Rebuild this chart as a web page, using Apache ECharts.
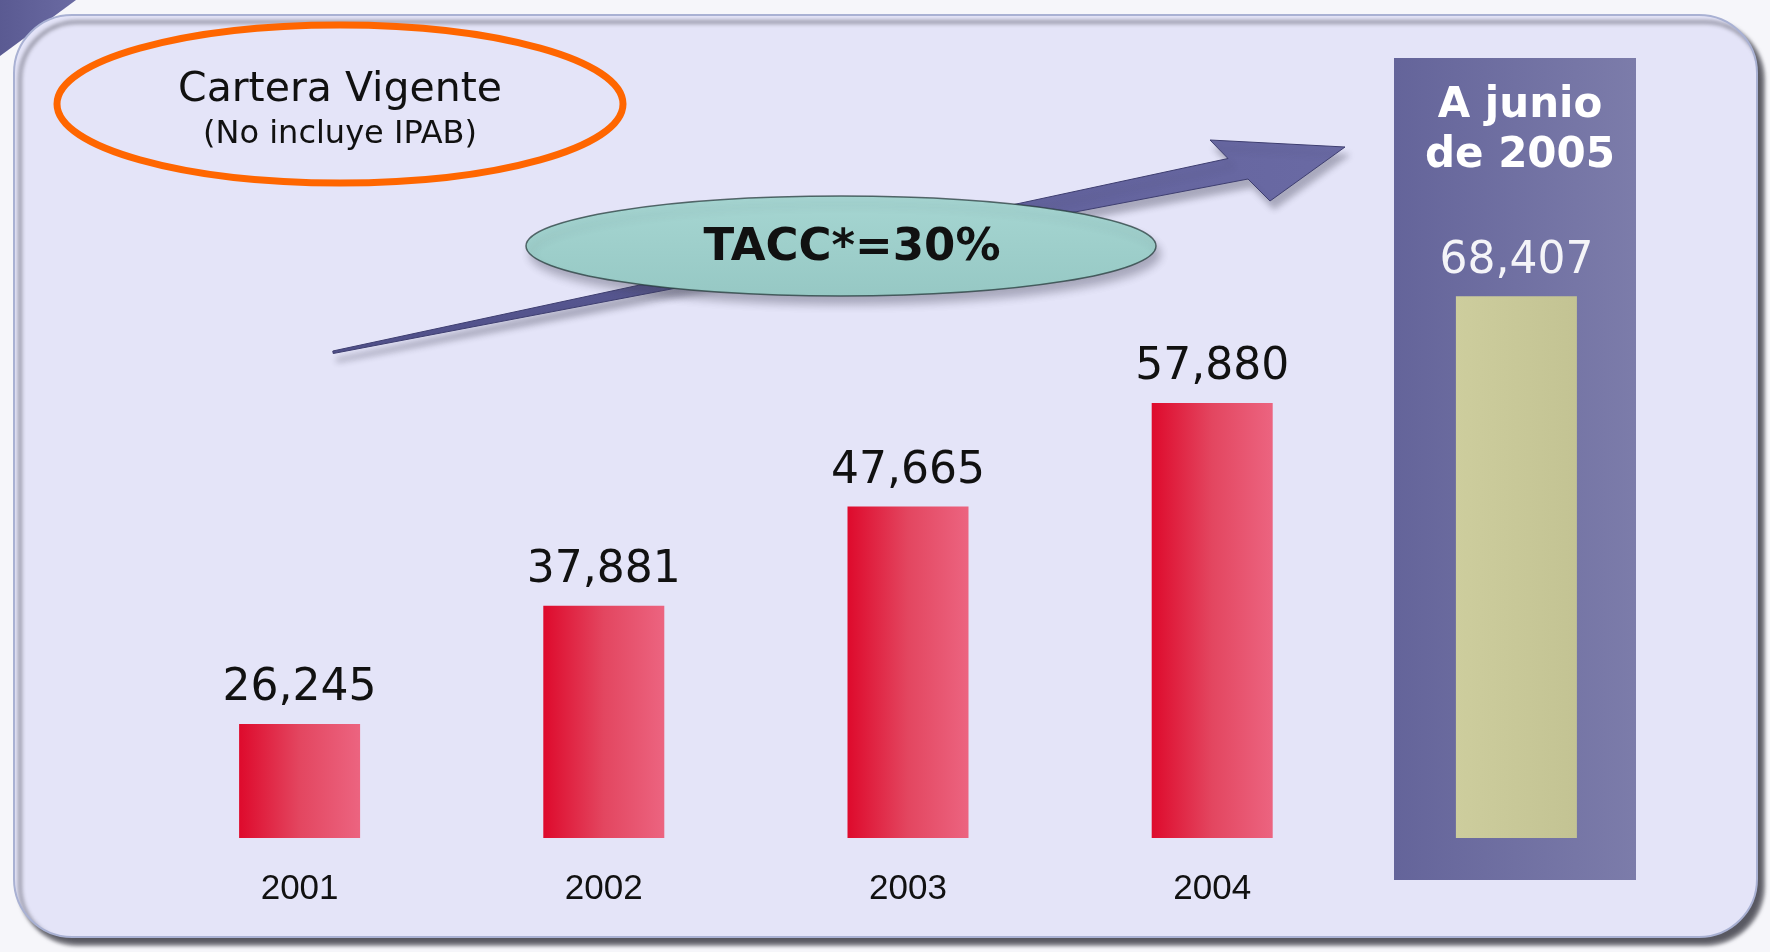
<!DOCTYPE html>
<html>
<head>
<meta charset="utf-8">
<title>Cartera Vigente</title>
<script src="https://cdn.jsdelivr.net/npm/echarts@6/dist/echarts.min.js"></script>
<style>
    html,body{margin:0;padding:0;background:#f6f6fa;}
    #chart{width:1770px;height:952px;}
</style>
</head>
<body>
<div id="chart"></div>
<script>
// datos
var years = ['2001', '2002', '2003', '2004', '2005'];
var cartera = [26245, 37881, 47665, 57880, 68407];
var ultimoTitulo = ['A junio', 'de 2005'];
var tituloTexto = 'Cartera Vigente';
var subTitulo = '(No incluye IPAB)';
var taccTexto = 'TACC*=30%';

var rojo = new echarts.graphic.LinearGradient(0, 0, 1, 0, [
    {offset: 0, color: '#de0a2c'},
    {offset: 0.5, color: '#e34660'},
    {offset: 1, color: '#ec6480'}
]);
var caqui = new echarts.graphic.LinearGradient(0, 0, 1, 0, [
    {offset: 0, color: '#cdcd9d'},
    {offset: 1, color: '#c3c393'}
]);

var barData = [];
for (var i = 0; i < cartera.length; i++) {
    var last = i == cartera.length - 1;
    barData.push({
        value: cartera[i],
        itemStyle: {color: last ? caqui : rojo},
        label: {color: last ? '#f4f4f8' : '#111'}
    });
}

// flecha (cola delgada, cabeza inclinada)
var flecha = [[332.8, 351], [1228, 158.5], [1210, 140], [1345, 147], [1270, 201], [1248, 179], [333.2, 353.5]];

var myChart = echarts.init(document.getElementById('chart'));
var option = {
    backgroundColor: '#f6f6fa',
    animation: false,
    grid: {left: 147.5, right: 101.5, top: 280, bottom: 114},
    xAxis: {
        type: 'category',
        data: years,
        axisLine: {show: false},
        axisTick: {show: false},
        axisLabel: {
            margin: 34,
            fontFamily: 'Liberation Sans',
            fontSize: 35,
            color: '#111',
            formatter: function (v, idx) { return idx == 4 ? '' : v; }
        }
    },
    yAxis: {type: 'value', min: 15000, max: 70000, show: false},
    graphic: [
        // esquina morada
        {type: 'polygon', shape: {points: [[0, 0], [76, 0], [0, 56]]},
            style: {fill: new echarts.graphic.LinearGradient(0, 0, 1, 0, [{offset: 0, color: '#5a5a92'}, {offset: 1, color: '#6a6aa2'}])}},
        // panel
        {type: 'rect', shape: {x: 14, y: 15, width: 1743, height: 922, r: 58},
            style: {fill: '#e4e4f8', stroke: '#a9b1d3', lineWidth: 2,
                shadowColor: 'rgba(50,50,60,0.8)', shadowBlur: 4, shadowOffsetX: 6, shadowOffsetY: 7}},
        // caja 2005
        {type: 'rect', shape: {x: 1394, y: 58, width: 242, height: 822},
            style: {fill: new echarts.graphic.LinearGradient(0, 0, 1, 0, [{offset: 0, color: '#64649a'}, {offset: 1, color: '#7c7caa'}])}},
        {type: 'text', x: 1520, y: 106, style: {text: ultimoTitulo[0], fill: '#fff', font: 'bold 42px "DejaVu Sans"', align: 'center', verticalAlign: 'middle'}},
        {type: 'text', x: 1520, y: 156, style: {text: ultimoTitulo[1], fill: '#fff', font: 'bold 42px "DejaVu Sans"', align: 'center', verticalAlign: 'middle'}},
        // titulo
        {type: 'ellipse', shape: {cx: 340, cy: 104, rx: 283, ry: 79},
            style: {fill: 'none', stroke: '#ff6600', lineWidth: 7}},
        {type: 'text', x: 340, y: 90, style: {text: tituloTexto, fill: '#111', font: '41px "DejaVu Sans"', align: 'center', verticalAlign: 'middle'}},
        {type: 'text', x: 340, y: 135, style: {text: subTitulo, fill: '#111', font: '32px "DejaVu Sans"', align: 'center', verticalAlign: 'middle'}},
        // flecha
        {type: 'polygon', shape: {points: flecha},
            style: {fill: new echarts.graphic.LinearGradient(0, 0, 1, 0, [{offset: 0, color: '#50508a'}, {offset: 1, color: '#6a6aa4'}]),
                stroke: '#3e3e70', lineWidth: 1,
                shadowColor: 'rgba(60,60,80,0.35)', shadowBlur: 6, shadowOffsetX: 4, shadowOffsetY: 8}},
        // TACC
        {type: 'ellipse', shape: {cx: 841, cy: 246, rx: 315, ry: 50},
            style: {fill: new echarts.graphic.LinearGradient(0, 0, 0, 1, [{offset: 0, color: '#a6d6d2'}, {offset: 1, color: '#96c8c4'}]),
                stroke: 'rgba(30,50,50,0.7)', lineWidth: 1.5,
                shadowColor: 'rgba(60,60,80,0.35)', shadowBlur: 8, shadowOffsetX: 4, shadowOffsetY: 8}},
        {type: 'text', x: 852, y: 248, style: {text: taccTexto, fill: '#111', font: 'bold 45px "DejaVu Sans"', align: 'center', verticalAlign: 'middle'}}
    ],
    series: [{
        type: 'bar',
        data: barData,
        barWidth: 121,
        label: {
            show: true,
            position: 'top',
            distance: 13,
            fontFamily: 'DejaVu Sans',
            fontSize: 44,
            formatter: function (p) { return p.value.toLocaleString('en-US'); }
        }
    }]
};
myChart.setOption(option);
</script>
</body>
</html>
